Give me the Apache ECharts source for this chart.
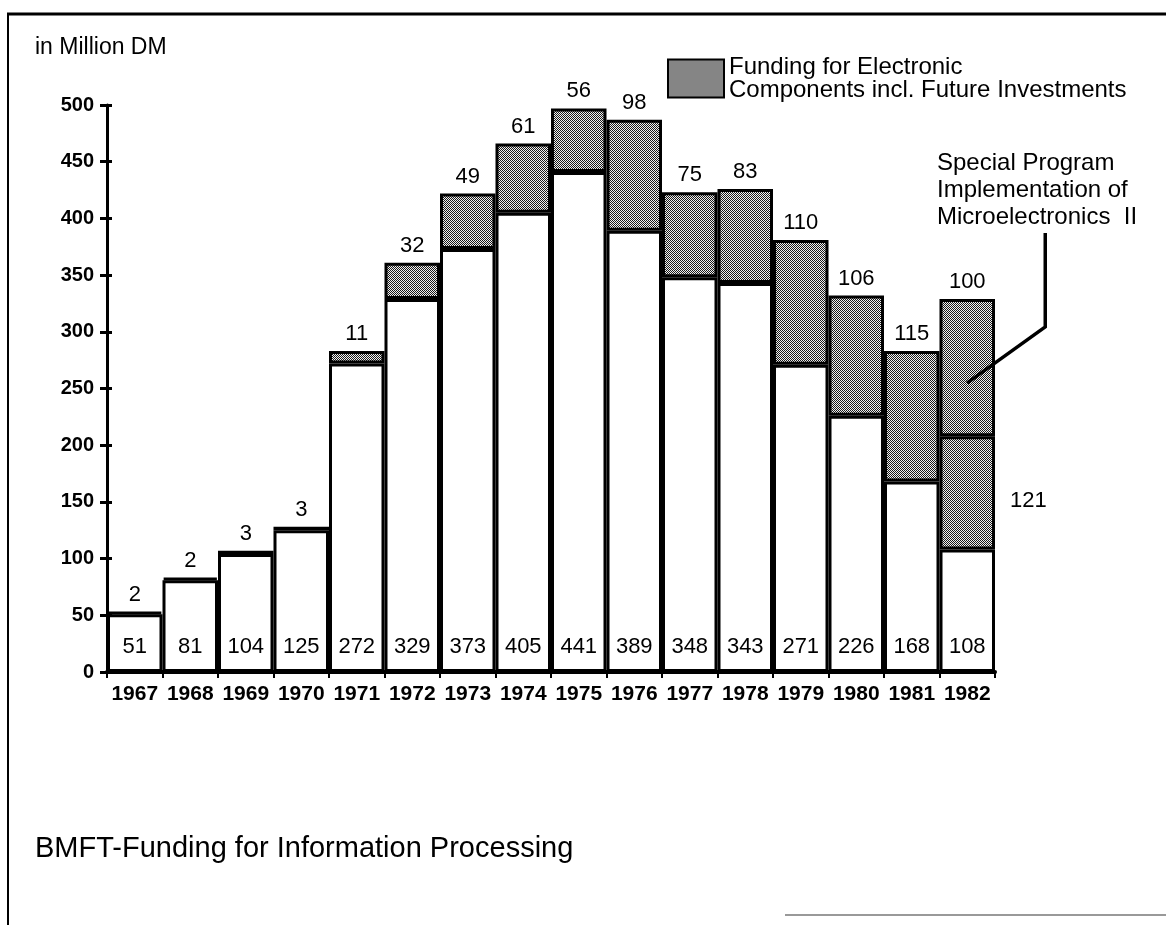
<!DOCTYPE html>
<html>
<head>
<meta charset="utf-8">
<script src="https://cdn.jsdelivr.net/npm/echarts@6/dist/echarts.min.js"></script>
<style>
  html, body { margin: 0; padding: 0; background: #fff; }
  #chart { width: 1166px; height: 925px; }
</style>
</head>
<body>
<div id="chart"></div>
<script>
// data
var years = ['1967', '1968', '1969', '1970', '1971', '1972', '1973', '1974',
  '1975', '1976', '1977', '1978', '1979', '1980', '1981', '1982']
var baseFunding = [51, 81, 104, 125, 272, 329, 373, 405, 441, 389, 348, 343, 271, 226, 168, 108]
var electronics = [2, 2, 3, 3, 11, 32, 49, 61, 56, 98, 75, 83, 110, 106, 115, 100]
var specialProgram = [null, null, null, null, null, null, null, null,
  null, null, null, null, null, null, null, 121]
var yTicks = [0, 50, 100, 150, 200, 250, 300, 350, 400, 450, 500]

var FONT = '"Liberation Sans", Arial, sans-serif'

// dithered grey like the printed raster
function makeDots() {
  var c = document.createElement('canvas')
  c.width = 2
  c.height = 2
  var ctx = c.getContext('2d')
  ctx.fillStyle = '#f0f0f0'
  ctx.fillRect(0, 0, 2, 2)
  ctx.fillStyle = '#1a1a1a'
  ctx.fillRect(0, 0, 1, 1)
  ctx.fillRect(1, 1, 1, 1)
  return c
}
var dots = { image: makeDots(), repeat: 'repeat' }

var chart = echarts.init(document.getElementById('chart'))

var electronicsData = electronics.map(function (v, i) {
  if (specialProgram[i] != null) {
    // the 121 sits beside the middle block in the original
    return {
      value: v,
      label: {
        show: true, position: 'right', distance: 15, offset: [0, 8],
        fontSize: 22, color: '#000', fontFamily: FONT,
        formatter: String(specialProgram[i])
      }
    }
  }
  return v
})

var option = {
  animation: false,
  backgroundColor: '#fff',
  textStyle: { fontFamily: FONT },
  grid: { left: 107, right: 171, top: 105, bottom: 253 },
  legend: {
    left: 662,
    top: 50,
    icon: 'rect',
    itemWidth: 56,
    itemHeight: 38,
    itemGap: 10,
    selectedMode: false,
    data: ['Funding for Electronic\nComponents incl. Future Investments'],
    textStyle: { fontSize: 24, lineHeight: 23, color: '#000', fontFamily: FONT }
  },
  xAxis: {
    type: 'category',
    data: years,
    axisLine: { lineStyle: { color: '#000', width: 4 } },
    axisTick: { show: true, length: 6, lineStyle: { color: '#000', width: 2 } },
    axisLabel: { interval: 0, fontSize: 21, fontWeight: 'bold', color: '#000', margin: 12, fontFamily: FONT }
  },
  yAxis: [{
    type: 'value',
    min: 0,
    max: 500,
    interval: 50,
    splitLine: { show: false },
    axisLine: { show: true, lineStyle: { color: '#000', width: 3 } },
    axisTick: { show: true, length: 7, lineStyle: { color: '#000', width: 3 } },
    axisLabel: {
      fontSize: 20, fontWeight: 'bold', color: '#000', margin: 13, fontFamily: FONT,
      formatter: function (v) { return yTicks.indexOf(v) >= 0 ? String(v) : '' }
    }
  }, {
    type: 'value',
    position: 'left',
    min: 0,
    max: 500,
    interval: 50,
    splitLine: { show: false },
    axisLine: { show: false },
    axisTick: { show: true, inside: true, length: 5, lineStyle: { color: '#000', width: 3 } },
    axisLabel: { show: false }
  }],
  graphic: [
    { type: 'text', left: 35, top: 36, style: { text: 'in Million DM', font: '23px ' + FONT, fill: '#000' } },
    {
      type: 'text', left: 937, top: 150,
      style: {
        text: 'Special Program\nImplementation of\nMicroelectronics  II',
        font: '24px ' + FONT, lineHeight: 27, fill: '#000'
      }
    },
    { type: 'text', left: 35, top: 834, style: { text: 'BMFT-Funding for Information Processing', font: '29px ' + FONT, fill: '#000' } },
    // page frame
    { type: 'line', shape: { x1: 7, y1: 14, x2: 1166, y2: 14 }, style: { stroke: '#000', lineWidth: 3 } },
    { type: 'line', shape: { x1: 8, y1: 14, x2: 8, y2: 925 }, style: { stroke: '#000', lineWidth: 2 } },
    { type: 'line', shape: { x1: 785, y1: 915, x2: 1166, y2: 915 }, style: { stroke: '#777', lineWidth: 1.5 } }
  ],
  series: [
    {
      name: 'base',
      type: 'bar',
      stack: 'one',
      barCategoryGap: '0%',
      itemStyle: { color: '#fff', borderColor: '#000', borderWidth: 3 },
      label: {
        show: true, position: 'insideBottom', distance: 14,
        fontSize: 22, color: '#000', fontFamily: FONT
      },
      data: baseFunding
    },
    {
      name: 'Funding for Electronic\nComponents incl. Future Investments',
      type: 'bar',
      stack: 'one',
      itemStyle: { color: dots, borderColor: '#000', borderWidth: 3 },
      data: electronicsData
    },
    {
      name: 'Special Program',
      type: 'bar',
      stack: 'one',
      itemStyle: { color: dots, borderColor: '#000', borderWidth: 3 },
      data: specialProgram
    },
    {
      // zero-height cap that carries the electronics number above each bar
      name: 'caps',
      type: 'bar',
      stack: 'one',
      itemStyle: { color: 'rgba(0,0,0,0)', borderWidth: 0 },
      label: {
        show: true, position: 'top', distance: 6,
        fontSize: 22, color: '#000', fontFamily: FONT,
        formatter: function (p) { return String(electronics[p.dataIndex]) }
      },
      data: years.map(function () { return 0 })
    }
  ]
}

chart.setOption(option)

// leader line from the note down into the 1982 top block
var last = years.length - 1
var topOf1982 = baseFunding[last] + electronics[last] + specialProgram[last]
var tip = chart.convertToPixel({ seriesIndex: 0 }, [years[last], topOf1982 - 74])
var barEdge = chart.convertToPixel({ seriesIndex: 0 }, [years[last], topOf1982])
chart.setOption({
  graphic: option.graphic.concat([{
    type: 'polyline',
    z: 100,
    shape: { points: [[barEdge[0] + 78, 233], [barEdge[0] + 78, barEdge[1] + 28], [tip[0], tip[1]]] },
    style: { stroke: '#000', lineWidth: 3.5, fill: null }
  }])
})
</script>
</body>
</html>
